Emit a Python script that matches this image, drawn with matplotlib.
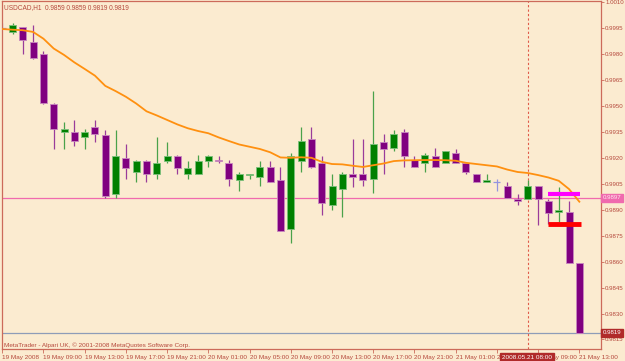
from matplotlib import pyplot as plt
import matplotlib.transforms as mtransforms
import numpy as np

# USDCAD H1 candles, 19-21 May 2008
opens = [0.9995, 0.9993, 0.9996, 0.9987, 0.9980, 0.9951, 0.9935, 0.9935, 0.9932, 0.9938,
         0.9933, 0.9899, 0.9920, 0.9912, 0.9918, 0.9911, 0.9918, 0.9921, 0.9911, 0.9911,
         0.9918, 0.9919, 0.9917, 0.9907, 0.9910, 0.9909, 0.9915, 0.9907, 0.9879, 0.9918,
         0.9931, 0.9917, 0.9893, 0.9902, 0.9911, 0.9911, 0.9908, 0.9929, 0.9926, 0.9935,
         0.9919, 0.9917, 0.9921, 0.9917, 0.9923, 0.9917, 0.9911, 0.9906, 0.9906, 0.9904,
         0.9896, 0.9896, 0.9904, 0.9895, 0.9889, 0.9889, 0.9859]
highs = [0.9998, 0.9998, 0.9996, 0.9997, 0.9982, 0.9952, 0.9941, 0.9942, 0.9937, 0.9942,
         0.9936, 0.9936, 0.9928, 0.9919, 0.9919, 0.9932, 0.9929, 0.9922, 0.9918, 0.9922,
         0.9922, 0.9921, 0.9919, 0.9912, 0.9911, 0.9918, 0.9918, 0.9915, 0.9923, 0.9938,
         0.9938, 0.9921, 0.9911, 0.9912, 0.9931, 0.9931, 0.9959, 0.9934, 0.9936, 0.9937,
         0.9921, 0.9923, 0.9926, 0.9924, 0.9925, 0.9917, 0.9911, 0.9911, 0.9908, 0.9906,
         0.9899, 0.9907, 0.9904, 0.9896, 0.9903, 0.9895, 0.9859]
lows = [0.9995, 0.9992, 0.9980, 0.9977, 0.9951, 0.9925, 0.9925, 0.9927, 0.9925, 0.9929,
        0.9897, 0.9897, 0.9908, 0.9906, 0.9906, 0.9908, 0.9917, 0.9911, 0.9908, 0.9911,
        0.9915, 0.9917, 0.9904, 0.9901, 0.9908, 0.9904, 0.9906, 0.9878, 0.9871, 0.9912,
        0.9914, 0.9887, 0.9890, 0.9886, 0.9903, 0.9904, 0.9900, 0.9911, 0.9924, 0.9915,
        0.9915, 0.9912, 0.9915, 0.9917, 0.9917, 0.9911, 0.9906, 0.9906, 0.9901, 0.9897,
        0.9893, 0.9896, 0.9881, 0.9882, 0.9883, 0.9859, 0.9819]
closes = [0.9995, 0.9997, 0.9988, 0.9978, 0.9952, 0.9937, 0.9937, 0.9930, 0.9935, 0.9934,
          0.9898, 0.9921, 0.9914, 0.9918, 0.9911, 0.9917, 0.9921, 0.9914, 0.9914, 0.9918,
          0.9921, 0.9918, 0.9908, 0.9911, 0.9911, 0.9915, 0.9906, 0.9878, 0.9921, 0.9930,
          0.9915, 0.9894, 0.9904, 0.9911, 0.9909, 0.9907, 0.9928, 0.9925, 0.9934, 0.9921,
          0.9915, 0.9922, 0.9915, 0.9924, 0.9917, 0.9912, 0.9906, 0.9907, 0.9906, 0.9897,
          0.9895, 0.9904, 0.9896, 0.9888, 0.9890, 0.9859, 0.9819]
# moving average (orange)
ma = [0.99946, 0.99942, 0.99939, 0.99929, 0.99890, 0.99833, 0.99796, 0.99753, 0.99715, 0.99676,
      0.99617, 0.99587, 0.99554, 0.99515, 0.99470, 0.99446, 0.99420, 0.99394, 0.99372, 0.99356,
      0.99343, 0.99319, 0.99298, 0.99278, 0.99265, 0.99252, 0.99233, 0.99203, 0.99201, 0.99204,
      0.99201, 0.99178, 0.99165, 0.99163, 0.99155, 0.99148, 0.99158, 0.99168, 0.99182, 0.99186,
      0.99187, 0.99188, 0.99188, 0.99187, 0.99184, 0.99172, 0.99165, 0.99158, 0.99151, 0.99133,
      0.99119, 0.99113, 0.99101, 0.99087, 0.99068, 0.99020, 0.98947]

x_labels = ['19 May 2008', '19 May 09:00', '19 May 13:00', '19 May 17:00', '19 May 21:00',
            '20 May 01:00', '20 May 05:00', '20 May 09:00', '20 May 13:00', '20 May 17:00',
            '20 May 21:00', '21 May 01:00', '21 May 05:00', '21 May 09:00', '21 May 13:00']
y_ticks = [1.0010, 0.9995, 0.9980, 0.9965, 0.9950, 0.9935, 0.9920, 0.9905, 0.9890,
           0.9875, 0.9860, 0.9845, 0.9830, 0.9815]

title = 'USDCAD,H1  0.9859 0.9859 0.9819 0.9819'
footer = 'MetaTrader - Alpari UK, \u00a9 2001-2008 MetaQuotes Software Corp.'
level_price = 0.9897
bid_price = 0.9819
magenta_level = 0.9899
red_level = 0.9882
cursor_bar = 51
cursor_label = '2008.05.21 08:00'

bg = '#FBEBD0'
frame = '#CC6A5A'
txt = '#B5483C'
bull = '#008000'
bear = '#800080'

plt.rcParams['font.family'] = ['Liberation Sans', 'DejaVu Sans']

fig = plt.figure(figsize=(6.25, 3.61), dpi=100, facecolor=bg)
ax = fig.add_axes([2 / 625, 12 / 361, 599 / 625, 348 / 361])
ax.set_facecolor(bg)

o = np.array(opens)
h = np.array(highs)
l = np.array(lows)
c = np.array(closes)
x = np.arange(len(o))
up = c > o
down = c < o
doji = c == o
w = 0.68

# wicks
ax.vlines(x[up], l[up], h[up], color='#4AA24A', lw=0.9, zorder=2)
ax.vlines(x[down], l[down], h[down], color='#9A3C9A', lw=0.9, zorder=2)
ax.vlines(x[doji], l[doji], h[doji], color='#9494E0', lw=0.9, zorder=2)
ax.hlines(o[doji], x[doji] - w / 2, x[doji] + w / 2, color='#9494E0', lw=0.9, zorder=2)

# bodies
ax.bar(x[up], c[up] - o[up], bottom=o[up], width=w, color=bull,
       edgecolor='#7CC07C', lw=0.6, zorder=3)
ax.bar(x[down], o[down] - c[down], bottom=c[down], width=w, color=bear,
       edgecolor='#C888C0', lw=0.6, zorder=3)

ax.plot(x, ma, color='#FF9010', lw=1.3, zorder=4)

# horizontal levels
ax.axhline(level_price, color='#F06AAE', lw=0.9, zorder=1)
ax.axhline(bid_price, color='#8E9CB8', lw=0.9, zorder=1)
ax.hlines(magenta_level, 52.95, 56.1, color='#FF00FF', lw=3, zorder=5)
ax.hlines(red_level, 52.95, 56.15, color='#FF0000', lw=3.5, zorder=5)
ax.axvline(cursor_bar, color='#E05A4A', lw=0.8, ls=(0, (2, 2)), zorder=1)

ax.set_xlim(-0.02, 58.1)
ax.set_ylim(0.98095, 1.00108)

for s in ax.spines.values():
    s.set_color(frame)
    s.set_linewidth(0.9)

ax.yaxis.tick_right()
ax.set_yticks(y_ticks)
ax.set_yticklabels([f'{v:.4f}' for v in y_ticks])
ax.tick_params(axis='y', colors=frame, labelcolor=txt, labelsize=4.4,
               length=2, width=0.6, pad=1)

ax.set_xticks(np.arange(0, len(x_labels) * 4, 4))
ax.set_xticklabels(x_labels, ha='left')
ax.tick_params(axis='x', colors=frame, labelcolor=txt, labelsize=4.6,
               length=3, width=0.6, pad=1.2)

ax.text(0.004, 0.992, title, transform=ax.transAxes, ha='left', va='top',
        fontsize=4.7, color=txt)
ax.text(0.004, 0.004, footer, transform=ax.transAxes, ha='left', va='bottom',
        fontsize=4.6, color=txt)

# price boxes on the right scale
trans_y = mtransforms.blended_transform_factory(ax.transAxes, ax.transData)
ax.text(1.003, level_price, f'{level_price:.4f}', transform=trans_y, ha='left', va='center',
        fontsize=4.4, color='#FFE8F0', clip_on=False, zorder=6,
        bbox=dict(boxstyle='square,pad=0.25', fc='#F06AAE', ec='#F06AAE'))
ax.text(1.003, bid_price, f'{bid_price:.4f}', transform=trans_y, ha='left', va='center',
        fontsize=4.4, color='white', clip_on=False, zorder=6,
        bbox=dict(boxstyle='square,pad=0.25', fc='#B02A2A', ec='#B02A2A'))

# cursor time box on the x scale
trans_x = mtransforms.blended_transform_factory(ax.transData, ax.transAxes)
ax.text(cursor_bar - 0.1, -0.018, cursor_label, transform=trans_x, ha='center', va='top',
        fontsize=4.6, color='white', clip_on=False, zorder=6,
        bbox=dict(boxstyle='square,pad=0.3', fc='#B02A2A', ec='#B02A2A'))

plt.savefig('out.png', dpi=100, facecolor=bg)
